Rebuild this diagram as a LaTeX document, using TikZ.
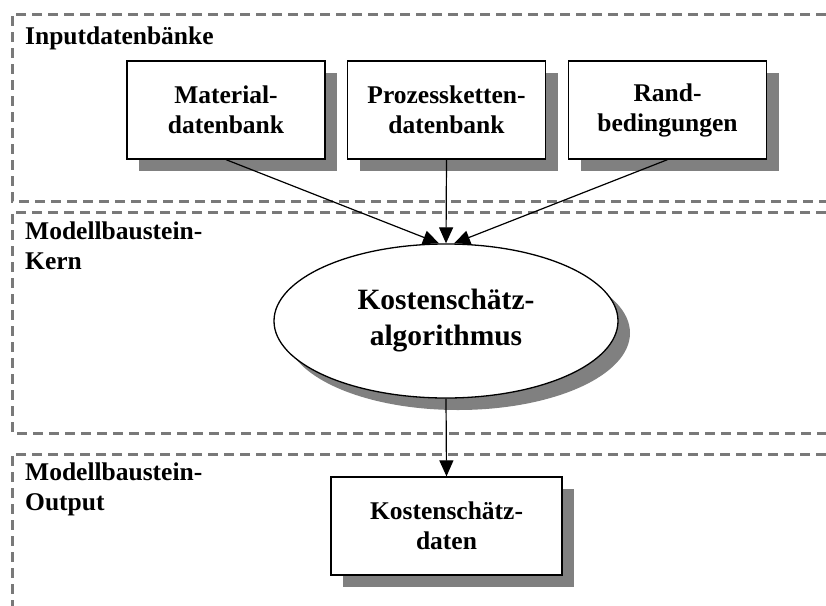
\documentclass[tikz,border=0pt]{standalone}
\usepackage{fontspec}
\setmainfont{Liberation Serif}
\usetikzlibrary{shapes.geometric,arrows.meta,shadows}
\begin{document}
\begin{tikzpicture}[x=1pt,y=-1pt,
  band/.style={draw=gray!95!black,line width=3pt,dash pattern=on 10pt off 6pt},
  bandlabel/.style={anchor=west,align=left,inner sep=0pt,
    font=\fontsize{25.5}{29.5}\selectfont\bfseries},
  dbox/.style={draw=black,line width=1.3pt,fill=white,minimum width=198pt,
    minimum height=98pt,inner sep=0pt,align=center,
    font=\fontsize{25.5}{30}\selectfont\bfseries,
    drop shadow={shadow xshift=12pt,shadow yshift=-12pt,fill=gray,opacity=1}},
  core/.style={ellipse,draw=black,line width=1.3pt,fill=white,minimum width=344pt,
    minimum height=154pt,inner sep=0pt,align=center,
    font=\fontsize{29.5}{36}\selectfont\bfseries,
    drop shadow={shadow xshift=12pt,shadow yshift=-12pt,fill=gray,opacity=1}},
  flow/.style={line width=1.2pt,-{Triangle[length=16pt,width=14pt]}}]
\useasboundingbox (0,0) rectangle (826,605);

% three layers, open to the right
\draw[band] (826,14) -- (12,14) -- (12,201) -- (826,201);
\draw[band] (826,212) -- (12,212) -- (12,433) -- (826,433);
\draw[band] (826,454) -- (12,454) -- (12,610);

% layer titles
\node[bandlabel] (lin) at (25,38) {Inputdatenbänke};
\node[bandlabel,anchor=north west] (lkern) at (25,222) {Modellbaustein-\\Kern};
\node[bandlabel,anchor=north west] (lout) at (25,463) {Modellbaustein-\\Output};

% input databases
\node[dbox] (mat) at (226,110) {Material-\\datenbank};
\node[dbox] (proz) at (446.5,110) {Prozessketten-\\datenbank};
\node[dbox] (rand) at (667.5,110) {Rand-\\bedingungen};

% core algorithm
\node[core] (alg) at (446,321) {Kostenschätz-\\algorithmus};

% output
\node[dbox,minimum width=231pt] (out) at (446.5,526) {Kostenschätz-\\daten};

% flows
\draw[flow] (mat.south) -- ([xshift=-7pt]alg.north);
\draw[flow] (proz.south) -- (alg.north);
\draw[flow] (rand.south) -- ([xshift=8pt]alg.north);
\draw[flow] (alg.south) -- (out.north);
\end{tikzpicture}
\end{document}
